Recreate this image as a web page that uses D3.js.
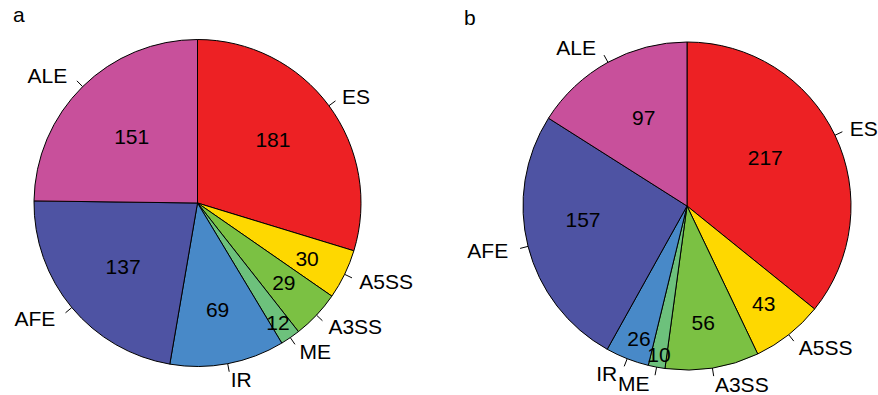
<!DOCTYPE html>
<html>
<head>
<meta charset="utf-8">
<script src="https://cdn.jsdelivr.net/npm/d3@7"></script>
<style>
  body { margin: 0; background: #fff; }
  svg { display: block; font-family: "Liberation Sans", Arial, sans-serif; }
</style>
</head>
<body>
<svg id="chart" width="878" height="395"></svg>
<script>
// ---- data ----
const categories = ["ES", "A5SS", "A3SS", "ME", "IR", "AFE", "ALE"];
const valuesA = [181, 30, 29, 12, 69, 137, 151];
const valuesB = [217, 43, 56, 10, 26, 157, 97];
const panelTitles = ["a", "b"];

// ---- style / layout ----
const colors = ["#ED2124", "#FED800", "#7BC143", "#6DC17C", "#4889C8", "#4E53A3", "#C8509B"];
// value-label placement (fraction of radius, angular nudge in degrees)
const labelFracA = [0.605, 0.75, 0.72, 0.88, 0.665, 0.60, 0.573];
const labelNudgeA = [-3.8, 0.8, -0.5, 0.6, 0, -0.9, 0];
const labelFracB = [0.56, 0.755, 0.72, 0.92, 0.857, 0.64, 0.60];
const labelNudgeB = [-6, 0, 1, 0, -1.4, 6.6, 2.7];

const panels = [
  { values: valuesA, cx: 197.5, cy: 203, r: 163.5, frac: labelFracA, nudge: labelNudgeA, title: panelTitles[0], tx: 13, ty: 22 },
  { values: valuesB, cx: 687, cy: 206, r: 164, frac: labelFracB, nudge: labelNudgeB, title: panelTitles[1], tx: 464, ty: 25 }
];

const svg = d3.select("#chart");
const fontSize = 21;
const color = d3.scaleOrdinal().domain(categories).range(colors);

panels.forEach(p => {
  const data = categories.map((c, i) => ({ cat: c, value: p.values[i], i }));
  const pie = d3.pie().sort(null).value(d => d.value).startAngle(0).endAngle(2 * Math.PI);
  const arcs = pie(data);
  const arc = d3.arc().innerRadius(0).outerRadius(p.r);

  const g = svg.append("g").attr("transform", `translate(${p.cx},${p.cy})`);

  g.selectAll("path.slice")
    .data(arcs)
    .join("path")
    .attr("class", "slice")
    .attr("d", arc)
    .attr("fill", d => color(d.data.cat))
    .attr("stroke", "#000")
    .attr("stroke-width", 1)
    .attr("stroke-linejoin", "round");

  // value labels
  g.selectAll("text.val")
    .data(arcs)
    .join("text")
    .attr("class", "val")
    .attr("x", d => {
      const a = (d.startAngle + d.endAngle) / 2 + p.nudge[d.data.i] * Math.PI / 180;
      return p.frac[d.data.i] * p.r * Math.sin(a);
    })
    .attr("y", d => {
      const a = (d.startAngle + d.endAngle) / 2 + p.nudge[d.data.i] * Math.PI / 180;
      return -p.frac[d.data.i] * p.r * Math.cos(a);
    })
    .attr("text-anchor", "middle")
    .attr("dominant-baseline", "central")
    .attr("font-size", fontSize)
    .attr("fill", "#000")
    .text(d => d.data.value);

  // outer tick marks
  g.selectAll("line.tick")
    .data(arcs)
    .join("line")
    .attr("class", "tick")
    .attr("x1", d => p.r * Math.sin((d.startAngle + d.endAngle) / 2))
    .attr("y1", d => -p.r * Math.cos((d.startAngle + d.endAngle) / 2))
    .attr("x2", d => 1.05 * p.r * Math.sin((d.startAngle + d.endAngle) / 2))
    .attr("y2", d => -1.05 * p.r * Math.cos((d.startAngle + d.endAngle) / 2))
    .attr("stroke", "#000")
    .attr("stroke-width", 1);

  // outer category labels
  g.selectAll("text.cat")
    .data(arcs)
    .join("text")
    .attr("class", "cat")
    .each(function(d) {
      const a = (d.startAngle + d.endAngle) / 2;
      const x = 1.1 * p.r * Math.sin(a);
      const y = -1.1 * p.r * Math.cos(a);
      const right = Math.sin(a) >= 0;
      d3.select(this)
        .attr("x", right ? x : x - 4)
        .attr("y", y)
        .attr("text-anchor", right ? "start" : "end");
    })
    .attr("dominant-baseline", "central")
    .attr("font-size", fontSize)
    .attr("fill", "#000")
    .text(d => d.data.cat);

  svg.append("text")
    .attr("x", p.tx)
    .attr("y", p.ty)
    .attr("font-size", fontSize)
    .attr("fill", "#000")
    .text(p.title);
});
</script>
</body>
</html>
